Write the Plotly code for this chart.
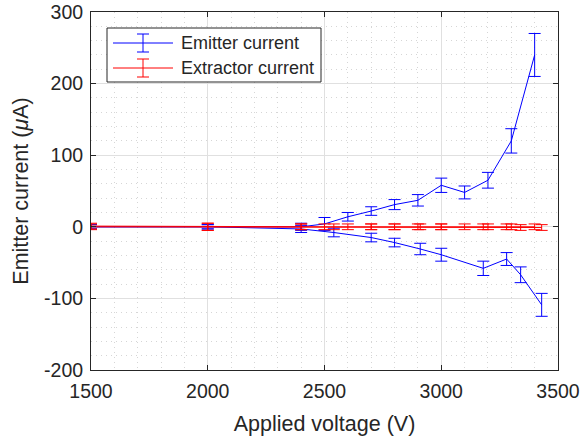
import plotly.graph_objects as go

# ---- data ----
x_emit_pos = [1500, 2000, 2400, 2500, 2600, 2700, 2800, 2900, 3000, 3100, 3200, 3300, 3400]
emit_pos = [0, 0, 0, 4, 14, 22, 31, 37, 58, 48, 65, 120, 240]
emit_pos_err = [3, 3, 5, 9, 6, 6, 7, 8, 10, 9, 11, 17, 30]

x_emit_neg = [1500, 2000, 2400, 2540, 2700, 2800, 2910, 3000, 3180, 3280, 3340, 3430]
emit_neg = [0, 0, -3, -8, -15, -22, -31, -39, -58, -45, -67, -109]
emit_neg_err = [3, 3, 5, 6, 6, 6, 8, 9, 10, 9, 11, 16]

extr_pos = [1, 0, 0, 0, 0, 0, 0, 0, 0, 0, 0, 0, 0]
extr_pos_err = [4, 5, 4, 4, 4, 4, 4, 4, 4, 4, 4, 4, 4]
extr_neg = [0, 0, 0, 0, 0, 0, 0, 0, 0, 0, -1, -1]
extr_neg_err = [4, 5, 4, 4, 4, 4, 4, 4, 4, 4, 4, 4]

legend_labels = ["Emitter current", "Extractor current"]
x_ticks = [1500, 2000, 2500, 3000, 3500]
y_ticks = [-200, -100, 0, 100, 200, 300]

BLUE = "#0000ff"
RED = "#ff0000"
AX = "#262626"
FONT = "Liberation Sans, Arial, sans-serif"

fig = go.Figure()

def add(x, y, err, color):
    fig.add_trace(go.Scatter(
        x=x, y=y, mode="lines",
        line=dict(color=color, width=1),
        error_y=dict(type="data", array=err, visible=True, color=color,
                     thickness=1, width=6),
        showlegend=False,
    ))

add(x_emit_pos, emit_pos, emit_pos_err, BLUE)
add(x_emit_neg, emit_neg, emit_neg_err, BLUE)
add(x_emit_pos, extr_pos, extr_pos_err, RED)
add(x_emit_neg, extr_neg, extr_neg_err, RED)

# plot-area geometry (pixels)
L, R, T, B = 91, 558, 12, 370
W, H = 584, 440

def px(x):
    return (x - L) / (R - L)

def py(y):
    return (B - y) / (B - T)

shapes = []
annotations = []
# legend box
shapes.append(dict(type="rect", xref="paper", yref="paper",
                   x0=px(107), x1=px(321), y0=py(82), y1=py(28),
                   line=dict(color=AX, width=1), fillcolor="white", layer="above"))
for i, (lab, col) in enumerate(zip(legend_labels, [BLUE, RED])):
    yc = 43 + i * 25
    shapes.append(dict(type="line", xref="paper", yref="paper",
                       x0=px(113), x1=px(173), y0=py(yc), y1=py(yc),
                       line=dict(color=col, width=1), layer="above"))
    shapes.append(dict(type="line", xref="paper", yref="paper",
                       x0=px(143), x1=px(143), y0=py(yc - 9), y1=py(yc + 9),
                       line=dict(color=col, width=1), layer="above"))
    for dy in (-9, 9):
        shapes.append(dict(type="line", xref="paper", yref="paper",
                           x0=px(137), x1=px(149), y0=py(yc + dy), y1=py(yc + dy),
                           line=dict(color=col, width=1), layer="above"))
    annotations.append(dict(text=lab, xref="paper", yref="paper",
                            x=px(179), y=py(yc), xanchor="left", yanchor="middle",
                            showarrow=False, font=dict(size=18, color=AX, family=FONT)))

axis_common = dict(
    showline=True, linecolor=AX, linewidth=1, mirror="ticks",
    ticks="inside", ticklen=5, tickcolor=AX, tickwidth=1,
    showgrid=True, gridcolor="#e0e0e0", gridwidth=1, zeroline=False,
    tickfont=dict(size=19.5, color=AX, family=FONT),
)

minor_grid = dict(showgrid=True, gridcolor="#d6d6d6", griddash="1px,4px",
                  gridwidth=1, ticks="")

fig.update_layout(
    width=W, height=H,
    margin=dict(l=L, r=W - R, t=T, b=H - B, autoexpand=False),
    paper_bgcolor="white", plot_bgcolor="white",
    font=dict(family=FONT, color=AX),
    xaxis=dict(range=[1500, 3500], tickvals=x_ticks,
               ticktext=[str(v) for v in x_ticks],
               minor=dict(dtick=100, tick0=1500, **minor_grid),
               title=dict(text="Applied voltage (V)", font=dict(size=21.5, color=AX, family=FONT),
                          standoff=14),
               ticklabelstandoff=4,
               **axis_common),
    yaxis=dict(range=[-200, 300], tickvals=y_ticks,
               ticktext=[str(v) for v in y_ticks],
               minor=dict(dtick=20, tick0=0, **minor_grid),
               title=dict(text="Emitter current (<i>μ</i>A)", font=dict(size=21.5, color=AX, family=FONT),
                          standoff=9),
               ticklabelstandoff=3,
               **axis_common),
    shapes=shapes,
    annotations=annotations,
)

fig.write_html("out.html")
